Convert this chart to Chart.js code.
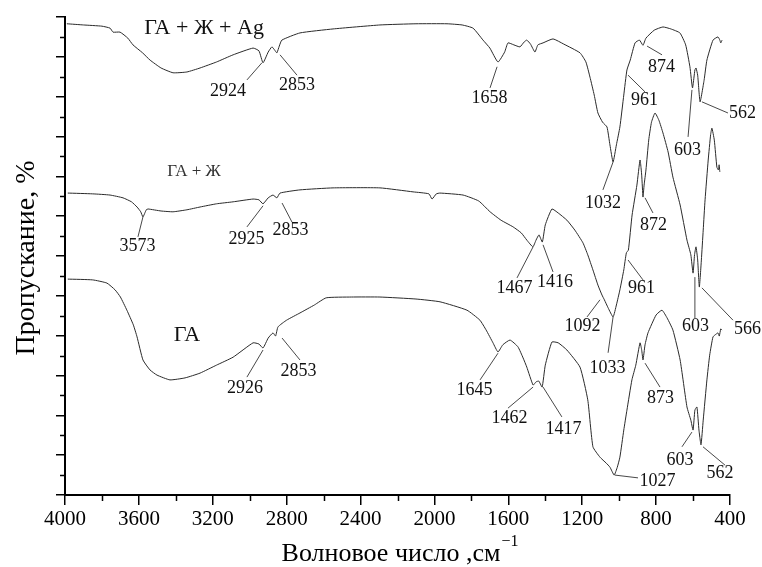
<!DOCTYPE html>
<html><head><meta charset="utf-8">
<script src="https://cdn.jsdelivr.net/npm/chart.js@4/dist/chart.umd.min.js"></script>
<style>html,body{margin:0;padding:0;background:#fff}#wrap{width:762px;height:567px}</style>
</head><body><div id="wrap"><canvas id="c" width="762" height="567"></canvas></div>
<script>
// ---- Data (wavenumber, cm^-1 ; transmission, offset arbitrary units) ----
const seriesNames = ["ГА + Ж + Ag", "ГА + Ж", "ГА"];

const wnA = [3990,3900,3800,3756,3740,3702,3660,3632,3580,3540,3480,3415,3340,3269,3180,3090,2982,2950,2928,2900,2880,2865,2853,2840,2826,2728,2549,2295,2100,1932,1850,1791,1737,1700,1656,1620,1602,1570,1537,1515,1500,1480,1456,1440,1412,1358,1300,1212,1180,1158,1135,1115,1090,1066,1050,1033,1015,996,975,958,940,914,890,871,855,810,763,720,671,640,617,603,590,584,575,562,540,525,492,465,455,450,443];
const tA  = [118.3,118.0,117.7,117.2,116.2,116.2,114.7,113.0,111.0,109.2,107.2,106.0,106.2,107.2,108.7,110.5,112.2,111.5,108.5,111.2,112.5,111.7,111.0,112.7,114.2,116.0,117.0,118.0,118.3,118.3,118.0,117.2,114.2,112.2,108.7,111.2,113.5,113.0,112.5,113.7,114.2,113.2,111.2,113.0,113.5,114.5,113.2,111.0,108.7,104.9,100.4,95.9,93.6,92.4,87.9,83.6,87.9,92.4,100.4,106.7,109.2,113.5,114.2,112.9,114.7,116.7,117.5,117.0,116.0,113.0,107.5,102.2,106.7,107.2,105.4,98.7,104.2,109.2,114.2,115.0,114.2,113.5,114.2];

const wnB = [3985,3850,3756,3686,3640,3610,3590,3578,3560,3550,3480,3415,3340,3269,3180,3090,2982,2950,2928,2900,2874,2853,2836,2728,2549,2295,2116,2030,2013,1990,1970,1845,1760,1699,1640,1574,1530,1500,1467,1450,1434,1416,1400,1364,1330,1283,1240,1196,1170,1142,1115,1093,1080,1060,1033,1015,996,975,961,950,930,904,887,878,871,865,855,840,825,806,785,763,735,709,670,633,612,600,592,584,575,566,555,545,535,518,505,498,485,471,463,459,455];
const tB  = [75.8,75.6,75.3,74.6,73.6,72.3,71.1,69.8,71.6,71.8,71.3,71.1,71.6,72.3,73.1,73.6,74.3,74.1,73.1,74.6,75.3,74.6,75.8,76.6,77.1,77.1,76.1,75.6,74.3,75.6,75.8,75.3,73.8,71.1,69.0,67.3,65.8,64.0,62.3,64.0,65.3,63.5,67.8,71.8,70.8,69.0,66.5,63.3,60.3,56.5,52.7,50.2,49.0,47.0,44.7,47.7,51.5,56.5,60.8,61.5,70.3,77.8,84.1,80.3,74.8,77.8,81.6,89.1,93.6,95.9,94.1,90.9,86.1,79.8,72.8,64.0,60.3,55.7,60.3,62.3,59.0,52.2,59.0,66.5,74.1,84.1,90.4,92.1,89.1,82.3,81.6,82.9,81.1];

const wnC = [3985,3850,3773,3729,3700,3665,3630,3610,3578,3540,3502,3432,3350,3269,3180,3090,2982,2950,2928,2900,2874,2860,2847,2800,2728,2650,2586,2450,2295,2100,1970,1824,1754,1720,1683,1656,1630,1591,1548,1520,1500,1466,1450,1435,1417,1400,1364,1330,1283,1212,1170,1142,1104,1070,1050,1027,1010,996,975,958,931,910,887,878,871,860,844,800,768,740,709,670,633,612,600,590,579,568,557,545,525,510,492,475,465,458,450,443];
const tC  = [54.2,54.0,53.2,51.5,49.7,46.4,42.7,39.7,33.9,31.4,30.1,28.9,29.4,30.6,32.6,34.6,38.2,37.9,36.9,39.4,40.7,39.9,42.2,43.9,45.7,47.7,49.5,49.7,49.7,49.2,48.5,46.4,43.9,41.4,38.2,35.9,37.7,38.9,37.2,34.4,32.1,27.6,28.4,28.6,27.1,32.6,38.4,38.2,36.4,32.1,23.9,12.1,9.5,8.0,7.0,5.0,7.0,9.5,16.3,21.3,28.9,32.6,38.2,36.4,33.9,37.7,40.7,45.2,46.4,44.4,41.4,33.9,22.1,18.8,16.3,21.3,22.1,16.3,12.6,18.8,28.9,35.1,39.7,40.4,40.7,39.9,41.7,41.4];

// x tick values (labels) and minor ticks
const xTicks = [4000,3600,3200,2800,2400,2000,1600,1200,800,400];
const xMinorTicks = [3800,3400,3000,2600,2200,1800,1400,1000,600];
const yMinorTicks = [5,15,25,35,45,55,65,75,85,95,105,115];

// peak annotations: label, label anchor (wn, T), leader line (wn1,T1)->(wn2,T2)
const annLabel = ["2924","2853","1658","961","874","603","562","1032",
                  "3573","2925","2853","1467","1416","1092","961","1033","872","603","566",
                  "2926","2853","1645","1462","1417","1027","873","603","562"];
const annX  = [3118,2744,1702,863,771,630,332,1088, 3608,3017,2779,1567,1347,1199,879,1063,814,587,305, 3026,2736,1783,1594,1301,793,776,671,454];
const annY  = [101.4,102.9,99.5,99.2,107.3,86.6,95.8,73.2, 62.5,64.3,66.5,51.8,53.4,42.3,51.8,31.8,67.8,42.4,41.7, 26.9,31.0,26.2,19.2,16.4,3.5,24.2,8.8,5.4];
const leadX1 = [2934,2836,1661,952,849,606,552,1033, 3578,2928,2825,1466,1412,1104,952,1033,860,590,552, 2928,2825,1656,1466,1412,1023,860,606,546];
const leadY1 = [108.5,110.5,107.5,105.4,112.7,101.7,98.7,83.6, 69.8,72.6,73.3,62.3,62.8,49.0,59.0,44.7,74.6,54.7,52.0, 36.4,39.4,35.6,27.1,27.1,5.0,33.1,15.8,12.1];
const leadX2 = [3015,2744,1699,860,768,627,411,1088, 3605,3015,2771,1553,1358,1174,871,1060,817,590,384, 3015,2728,1753,1602,1310,898,779,660,427];
const leadY2 = [104.2,105.4,102.2,101.2,110.5,89.9,95.9,76.6, 64.8,67.3,68.5,54.5,56.0,44.7,54.0,35.7,70.8,44.4,43.9, 29.6,33.9,28.9,21.8,19.6,4.3,27.1,12.1,7.5];

// series name label anchors
const nameX = [3247, 3302, 3340];
const nameY = [117.2, 81.1, 40.2];

const SERIF = '"Liberation Serif", "DejaVu Serif", serif';

function pts(w, t) { return w.map((v, i) => ({x: v, y: t[i]})); }

const decor = {
  id: 'decor',
  afterDraw(chart) {
    const {ctx, scales: {x, y}} = chart;
    ctx.save();
    // minor ticks
    ctx.strokeStyle = '#000';
    ctx.lineWidth = 1.5;
    ctx.beginPath();
    xMinorTicks.forEach(v => { const p = Math.round(x.getPixelForValue(v)) + 0.5; ctx.moveTo(p, y.bottom); ctx.lineTo(p, y.bottom + 6); });
    yMinorTicks.forEach(v => { const p = Math.round(y.getPixelForValue(v)) + 0.5; ctx.moveTo(x.left - 5, p); ctx.lineTo(x.left, p); });
    ctx.stroke();

    // leader lines
    ctx.strokeStyle = '#333';
    ctx.lineWidth = 0.9;
    ctx.beginPath();
    annLabel.forEach((s, i) => {
      ctx.moveTo(x.getPixelForValue(leadX1[i]), y.getPixelForValue(leadY1[i]));
      ctx.lineTo(x.getPixelForValue(leadX2[i]), y.getPixelForValue(leadY2[i]));
    });
    ctx.stroke();

    // peak labels
    ctx.fillStyle = '#111';
    ctx.font = '18px ' + SERIF;
    ctx.textAlign = 'center';
    ctx.textBaseline = 'middle';
    annLabel.forEach((s, i) => ctx.fillText(s, x.getPixelForValue(annX[i]), y.getPixelForValue(annY[i])));

    // series names
    const nameSizes = [22, 17, 22];
    seriesNames.forEach((s, i) => {
      ctx.font = nameSizes[i] + 'px ' + SERIF;
      ctx.fillStyle = i === 1 ? '#333' : '#111';
      ctx.fillText(s, x.getPixelForValue(nameX[i]), y.getPixelForValue(nameY[i]));
    });

    // axis titles
    ctx.fillStyle = '#000';
    ctx.textBaseline = 'alphabetic';
    const cx = (x.left + x.right) / 2 + 2;
    const main = 'Волновое число ,см';
    const sup = '−1';
    ctx.font = '26px ' + SERIF;
    const wMain = ctx.measureText(main).width;
    ctx.font = '16px ' + SERIF;
    const wSup = ctx.measureText(sup).width;
    const startX = cx - (wMain + wSup) / 2;
    ctx.textAlign = 'left';
    ctx.font = '26px ' + SERIF;
    ctx.fillText(main, startX, 561);
    ctx.font = '16px ' + SERIF;
    ctx.fillText(sup, startX + wMain + 1, 546);

    ctx.save();
    ctx.translate(34, (y.top + y.bottom) / 2 + 2);
    ctx.rotate(-Math.PI / 2);
    ctx.textAlign = 'center';
    ctx.font = '28px ' + SERIF;
    ctx.fillText('Пропускание, %', 0, 0);
    ctx.restore();

    ctx.restore();
  }
};

const lineDs = (label, w, t) => ({
  label, data: pts(w, t), borderColor: '#2a2a2a', borderWidth: 1, pointRadius: 0,
  tension: 0.15, fill: false
});

new Chart(document.getElementById('c'), {
  type: 'line',
  data: { datasets: [ lineDs(seriesNames[0], wnA, tA), lineDs(seriesNames[1], wnB, tB), lineDs(seriesNames[2], wnC, tC) ] },
  options: {
    responsive: false,
    animation: false,
    devicePixelRatio: 1,
    layout: { padding: { left: 0, top: 17, right: 32, bottom: 0 } },
    plugins: { legend: { display: false }, tooltip: { enabled: false } },
    scales: {
      x: {
        type: 'linear', reverse: true, min: 400, max: 4000,
        afterBuildTicks: s => { s.ticks = xTicks.map(v => ({value: v})); },
        afterFit: s => { s.height = 72; },
        ticks: { color: '#000', font: { family: SERIF, size: 21 }, padding: 2, maxRotation: 0, autoSkip: false,
                 callback: v => String(v) },
        grid: { drawOnChartArea: false, drawTicks: true, tickLength: 10, color: '#000', lineWidth: 1.5 },
        border: { color: '#000', width: 2 }
      },
      y: {
        min: 0, max: 120,
        ticks: { stepSize: 10, display: false },
        afterFit: s => { s.width = 65; },
        grid: { drawOnChartArea: false, drawTicks: true, tickLength: 9, color: '#000', lineWidth: 1.5 },
        border: { color: '#000', width: 2 }
      }
    }
  },
  plugins: [decor]
});
</script>
</body></html>
